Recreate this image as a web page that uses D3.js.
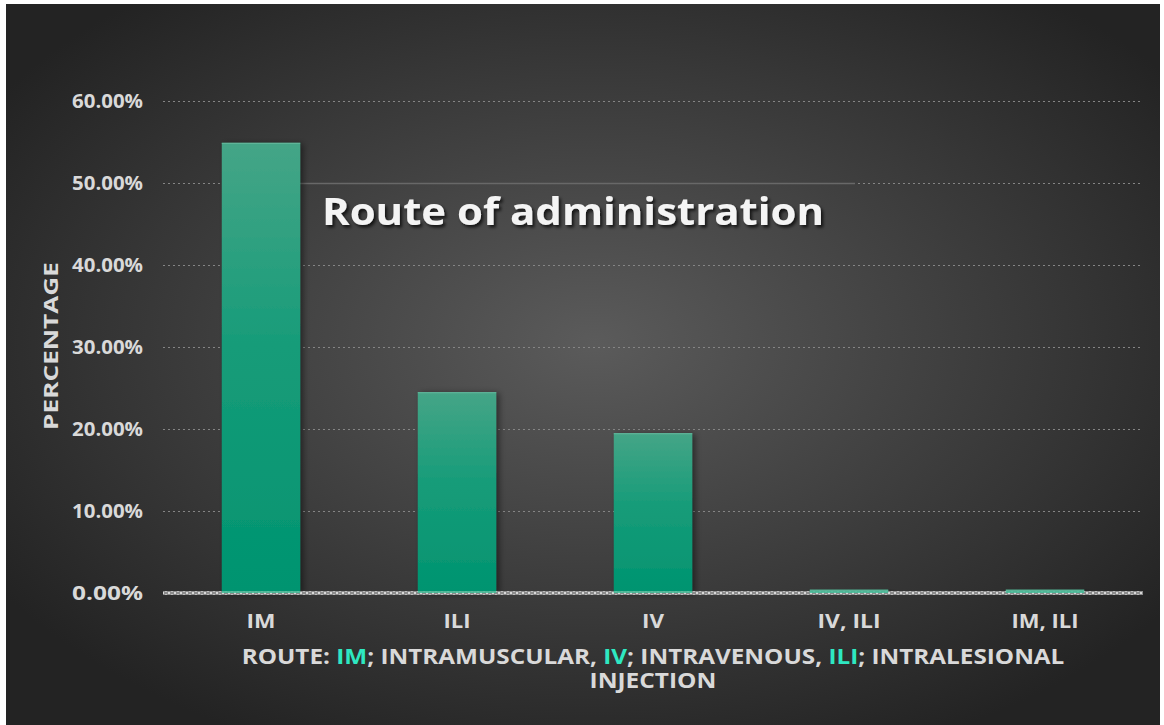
<!DOCTYPE html>
<html>
<head>
<meta charset="utf-8">
<script src="https://cdn.jsdelivr.net/npm/d3@7"></script>
<style>
  html, body { margin: 0; padding: 0; background: #fff; }
  svg { display: block; }
  text { font-family: "Open Sans", "Lato", sans-serif; font-weight: 700; }
</style>
</head>
<body>
<script>
// data
const routes = ["IM", "ILI", "IV", "IV, ILI", "IM, ILI"];
const percents = [54.9, 24.5, 19.5, 0.4, 0.4];
const yTicks = [0, 10, 20, 30, 40, 50, 60];
const chartTitle = "Route of administration";
const yTitle = "PERCENTAGE";
// x title pieces: [text, highlighted?]
const xTitleLine1 = [["ROUTE: ", false], ["IM", true], ["; INTRAMUSCULAR, ", false], ["IV", true], ["; INTRAVENOUS, ", false], ["ILI", true], ["; INTRALESIONAL", false]];
const xTitleLine2 = "INJECTION";

const W = 1164, H = 725;
const svg = d3.select("body").append("svg").attr("width", W).attr("height", H);
const defs = svg.append("defs");

// widen a text (about its own origin) to the width it has in the picture
// the original font is a wide Gill Sans bold, so glyphs get stretched a bit
function fitWidth(node, target, keep) {
    const len = node.getComputedTextLength();
    const sx = target / len;
    const prev = keep || "";
    d3.select(node).attr("transform", prev + " scale(" + sx + ",1)");
}

// background radial gradient
const bg = defs.append("radialGradient").attr("id", "bg")
    .attr("cx", "51%").attr("cy", "47%").attr("r", "62%");
bg.append("stop").attr("offset", "0%").attr("stop-color", "#5b5b5b");
bg.append("stop").attr("offset", "100%").attr("stop-color", "#232323");

const barGrad = defs.append("linearGradient").attr("id", "barGrad")
    .attr("x1", 0).attr("y1", 0).attr("x2", 0).attr("y2", 1);
barGrad.append("stop").attr("offset", "0%").attr("stop-color", "#45a587");
barGrad.append("stop").attr("offset", "45%").attr("stop-color", "#179c79");
barGrad.append("stop").attr("offset", "100%").attr("stop-color", "#009470");

const shadow = defs.append("filter").attr("id", "barShadow")
    .attr("x", "-20%").attr("y", "-5%").attr("width", "150%").attr("height", "110%");
shadow.append("feDropShadow").attr("dx", 3).attr("dy", 1).attr("stdDeviation", 3)
    .attr("flood-color", "#000").attr("flood-opacity", 0.45);

const txtShadow = defs.append("filter").attr("id", "txtShadow")
    .attr("x", "-5%").attr("y", "-20%").attr("width", "110%").attr("height", "150%");
txtShadow.append("feDropShadow").attr("dx", 2).attr("dy", 2.5).attr("stdDeviation", 1.5)
    .attr("flood-color", "#000").attr("flood-opacity", 0.7);

// checkered axis pattern
const pat = defs.append("pattern").attr("id", "axisPat").attr("patternUnits", "userSpaceOnUse")
    .attr("width", 6).attr("height", 4);
pat.append("rect").attr("width", 6).attr("height", 4).attr("fill", "#8c8c8c");
pat.append("rect").attr("x", 0).attr("y", 0).attr("width", 2).attr("height", 2).attr("fill", "#d8d8d8");
pat.append("rect").attr("x", 3).attr("y", 2).attr("width", 2).attr("height", 2).attr("fill", "#bdbdbd");

svg.append("rect").attr("x", 6).attr("y", 4).attr("width", 1154).attr("height", 721)
    .attr("fill", "url(#bg)");

const plotL = 163, plotR = 1143, plotT = 101, plotB = 593;

const x = d3.scaleBand().domain(routes).range([plotL, plotR])
    .paddingInner(0.6).paddingOuter(0.3);
const y = d3.scaleLinear().domain([0, 60]).range([plotB, plotT]);

// gridlines
svg.append("g").selectAll("line").data(yTicks.filter(d => d > 0)).join("line")
    .attr("x1", plotL).attr("x2", plotR - 3)
    .attr("y1", d => y(d) + 0.5).attr("y2", d => y(d) + 0.5)
    .attr("stroke", "#858585").attr("stroke-width", 1)
    .attr("stroke-dasharray", "2,3");

// faint edge of the title panel
svg.append("line").attr("x1", 300).attr("x2", 855).attr("y1", 183.5).attr("y2", 183.5)
    .attr("stroke", "#686868").attr("stroke-width", 1.5);

// bars
svg.append("g").selectAll("rect").data(percents).join("rect")
    .attr("x", (d, i) => x(routes[i]))
    .attr("y", d => y(d))
    .attr("width", x.bandwidth())
    .attr("height", d => plotB - y(d))
    .attr("fill", "url(#barGrad)")
    .attr("filter", "url(#barShadow)");
svg.append("g").selectAll("rect").data(percents).join("rect")
    .attr("x", (d, i) => x(routes[i]))
    .attr("y", d => y(d))
    .attr("width", x.bandwidth())
    .attr("height", 1.2)
    .attr("fill", "#5fb498");

// x axis line
svg.append("rect").attr("x", plotL).attr("y", plotB - 2).attr("width", plotR - plotL).attr("height", 4)
    .attr("fill", "url(#axisPat)");
svg.append("g").selectAll("rect").data(percents).join("rect")
    .attr("x", (d, i) => x(routes[i]))
    .attr("y", plotB - 2).attr("width", x.bandwidth()).attr("height", 2)
    .attr("fill", "#3fbf99").attr("opacity", 0.8);

// y axis tick labels
const yAxis = d3.axisLeft(y).tickValues(yTicks).tickFormat(d => d.toFixed(2) + "%").tickSize(0).tickPadding(0);
const gy = svg.append("g").attr("transform", "translate(143,0)").call(yAxis);
gy.select(".domain").remove();
gy.selectAll("text").attr("fill", "#d9d9d9").style("font-size", "20px")
    .style("font-family", "'Open Sans', sans-serif").style("font-weight", 700)
    .each(function() { fitWidth(this, 71); });

// x axis tick labels
const xAxis = d3.axisBottom(x).tickSize(0).tickPadding(0);
const gx = svg.append("g").attr("transform", "translate(0,628)").call(xAxis);
gx.select(".domain").remove();
const xTickW = { "IM": 29, "ILI": 27, "IV": 22, "IV, ILI": 63, "IM, ILI": 67 };
gx.selectAll("text").attr("fill", "#d9d9d9").attr("dy", 0).style("font-size", "20px")
    .style("font-family", "'Open Sans', sans-serif").style("font-weight", 700)
    .each(function(d) { fitWidth(this, xTickW[d]); });

// y title
const yt = svg.append("text")
    .attr("text-anchor", "middle").attr("fill", "#d9d9d9").style("font-size", "20px")
    .text(yTitle);
fitWidth(yt.node(), 168, "translate(58,346) rotate(-90)");

// x title
const xt = svg.append("text")
    .attr("text-anchor", "middle").attr("fill", "#d9d9d9").style("font-size", "20.5px");
xt.selectAll("tspan").data(xTitleLine1).join("tspan")
    .attr("fill", d => d[1] ? "#2ee8c2" : "#d9d9d9")
    .text(d => d[0]);
fitWidth(xt.node(), 823, "translate(" + (plotL + plotR) / 2 + ",664)");
const xt2 = svg.append("text")
    .attr("text-anchor", "middle").attr("fill", "#d9d9d9").style("font-size", "20.5px")
    .text(xTitleLine2);
fitWidth(xt2.node(), 127, "translate(" + (plotL + plotR) / 2 + ",688)");

// chart title
const ct = svg.append("text")
    .attr("fill", "#f4f4f4").style("font-size", "38px")
    .attr("filter", "url(#txtShadow)")
    .text(chartTitle);
fitWidth(ct.node(), 502, "translate(322,225)");
</script>
</body>
</html>
